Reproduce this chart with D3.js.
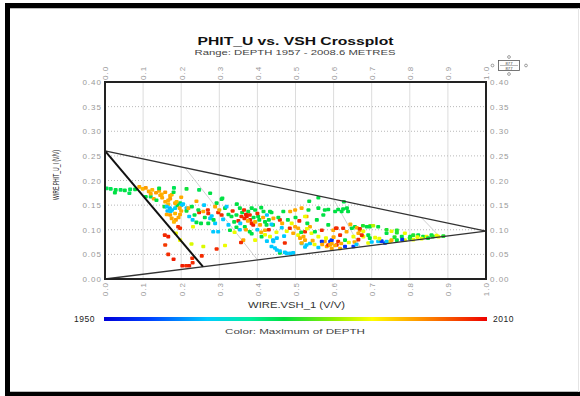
<!DOCTYPE html>
<html>
<head>
<meta charset="utf-8">
<script src="https://cdn.jsdelivr.net/npm/d3@7"></script>
<style>
  html, body { margin: 0; padding: 0; background: #fff; }
  svg { display: block; }
  text { font-family: "Liberation Sans", Arial, sans-serif; }
</style>
</head>
<body>
<svg id="chart" width="580" height="396"></svg>
<script>
// ---------------- DATA ----------------
const chartTitle = "PHIT_U vs. VSH Crossplot";
const chartSubtitle = "Range: DEPTH 1957 - 2008.6 METRES";
const xAxisTitle = "WIRE.VSH_1 (V/V)";
const yAxisTitle = "WIRE.PHIT_U_I (V/V)";
const colorTitle = "Color: Maximum of DEPTH";
const xTicks = [0, 0.1, 0.2, 0.3, 0.4, 0.5, 0.6, 0.7, 0.8, 0.9, 1.0];
const yTicks = [0, 0.05, 0.10, 0.15, 0.20, 0.25, 0.30, 0.35, 0.40];
const depthRange = [1950, 2010];

// Triangle (clean / matrix / shale points) as [VSH, PHIT]
const cleanPoint = [0, 0.26];
const matrixPoint = [0, 0];
const shalePoint = [1.0, 0.097];
const cutoffLine = [[0, 0.26], [0.257, 0.025]];
const isoLines = [
  [[0.21, 0.226], [0.40, 0.039]],
  [[0.60, 0.162], [0.67, 0.065]],
  [[0.83, 0.125], [0.88, 0.085]]
];

// Points: VSH, PHIT, DEPTH (parallel arrays)
const vsh = [
 0.004,0.015,0.028,0.041,0.052,0.066,0.079,0.026,0.064,
 0.090,0.099,0.107,0.115,0.124,0.134,0.142,0.149,0.158,0.171,
 0.142,0.181,0.214,0.107,0.120,0.128,0.175,0.171,0.166,
 0.158,0.166,0.156,0.162,0.170,0.176,0.184,0.164,0.172,0.190,0.197,0.184,0.188,0.201,0.214,0.214,
 0.162,0.171,0.184,0.175,0.186,0.193,0.181,0.197,0.196,
 0.197,0.166,0.158,0.157,0.166,0.180,0.203,0.213,0.221,0.230,0.192,
 0.186,0.227,0.231,0.197,0.258,
 0.247,0.240,0.219,0.228,0.221,0.235,0.247,0.258,0.271,0.262,0.276,0.252,0.271,0.289,
 0.306,0.293,0.289,0.297,0.306,0.315,0.319,0.324,0.332,0.324,0.339,0.346,0.354,
 0.358,0.366,0.372,0.381,0.385,0.389,0.394,0.376,0.394,0.402,0.416,0.420,0.407,0.367,0.354,0.380,
 0.394,0.363,0.357,0.411,0.437,0.424,0.315,0.293,0.254,0.229,0.441,0.420,0.433,
 0.276,0.308,0.385,0.433,0.284,0.297,0.328,0.441,0.451,0.477,0.494,0.459,
 0.560,0.577,0.604,0.486,0.529,0.499,0.507,0.512,0.525,0.516,0.529,0.591,0.582,0.595,0.608,
 0.437,0.468,0.442,0.459,0.499,0.516,0.525,0.534,0.536,0.560,0.586,0.612,0.621,0.635,
 0.531,0.538,0.485,0.437,0.464,0.477,0.494,0.507,0.521,0.525,0.542,0.551,
 0.525,0.538,0.446,0.459,0.472,0.486,0.442,0.451,
 0.577,0.586,0.595,0.604,0.612,0.630,0.634,0.648,0.617,0.569,0.595,0.652,0.560,0.586,0.608,0.599,0.569,0.556,0.652,0.665,0.573,0.516,0.472,
 0.625,0.638,0.627,0.656,0.644,0.669,0.625,0.606,0.617,0.591,0.677,0.696,0.739,0.766,
 0.661,0.669,0.678,0.687,0.695,0.704,0.717,0.678,0.691,0.709,0.717,0.726,0.739,0.752,0.766,0.779,0.787,0.801,0.809,0.822,0.835,0.844,0.857,0.870,
 0.766,0.748,0.735,0.739,0.752,0.787,0.809,0.831,0.848,0.875,0.888,0.691,0.665,0.674,0.695,
 0.300,0.310,0.335,0.345,0.350,0.360,0.365,0.370,0.375,0.380,0.390,0.400,0.405,0.410,0.415,0.425,0.430,
 0.345,0.355,0.340,0.370,0.385,0.400,0.410,0.420,0.425,0.430,0.450,0.455,0.465,0.470,0.480,0.490,0.500,0.510,0.515,0.530,
 0.545,0.550,0.560,0.570,0.580,0.600,0.620,0.630,0.640,0.655,0.660,0.700,0.720,0.760,0.780,0.800,0.820,0.860,
 0.120,0.145,0.135,0.150,0.180,0.200,0.205,0.200,0.230,0.240,0.245,0.260,0.270,0.280,0.285
];
const phit = [
 0.184,0.183,0.181,0.181,0.180,0.182,0.182,0.175,0.174,
 0.187,0.183,0.185,0.178,0.181,0.175,0.179,0.172,0.176,0.169,
 0.184,0.185,0.183,0.167,0.167,0.163,0.171,0.163,0.160,
 0.157,0.152,0.147,0.147,0.144,0.140,0.144,0.138,0.137,0.150,0.154,0.154,0.157,0.150,0.144,0.138,
 0.131,0.130,0.133,0.123,0.120,0.125,0.116,0.131,0.144,
 0.103,0.086,0.069,0.089,0.050,0.040,0.027,0.027,0.027,0.033,0.106,
 0.093,0.071,0.106,0.079,0.066,
 0.181,0.158,0.144,0.147,0.127,0.130,0.135,0.137,0.133,0.125,0.123,0.113,0.113,0.113,
 0.162,0.154,0.147,0.135,0.130,0.144,0.147,0.131,0.127,0.110,0.116,0.152,0.144,
 0.127,0.123,0.127,0.120,0.113,0.110,0.116,0.137,0.140,0.127,0.137,0.116,0.110,0.106,0.100,0.096,
 0.079,0.079,0.074,0.086,0.066,0.110,0.068,0.061,0.047,0.042,0.110,0.099,0.086,
 0.174,0.164,0.144,0.137,0.096,0.096,0.099,0.079,0.059,0.052,0.053,0.053,
 0.165,0.140,0.137,0.137,0.127,0.106,0.089,0.083,0.079,0.072,0.069,0.076,0.066,0.062,0.069,
 0.135,0.137,0.123,0.120,0.140,0.144,0.127,0.140,0.158,0.144,0.141,0.141,0.137,0.144,
 0.113,0.106,0.103,0.111,0.104,0.097,0.093,0.103,0.086,0.096,0.093,0.096,
 0.065,0.072,0.063,0.057,0.054,0.052,0.076,0.083,
 0.076,0.069,0.072,0.068,0.076,0.079,0.096,0.103,0.062,0.076,0.079,0.066,0.086,0.110,0.103,0.099,0.099,0.120,0.086,0.080,0.130,0.073,0.073,
 0.142,0.137,0.157,0.106,0.111,0.099,0.103,0.103,0.089,0.069,0.108,0.108,0.100,0.094,
 0.104,0.102,0.097,0.106,0.106,0.108,0.106,0.086,0.089,0.084,0.076,0.077,0.093,0.097,0.099,0.086,0.093,0.086,0.080,0.089,0.086,0.086,0.089,0.088,
 0.079,0.076,0.073,0.076,0.079,0.079,0.089,0.082,0.083,0.086,0.087,0.073,0.093,0.089,0.083,
 0.140,0.121,0.138,0.130,0.118,0.135,0.140,0.131,0.118,0.130,0.125,0.133,0.120,0.145,0.125,0.130,0.120,
 0.105,0.113,0.095,0.100,0.092,0.100,0.095,0.090,0.077,0.100,0.095,0.125,0.113,0.087,0.120,0.113,0.125,0.118,0.095,0.102,
 0.078,0.070,0.064,0.070,0.083,0.085,0.072,0.066,0.074,0.075,0.070,0.075,0.082,0.085,0.080,0.083,0.085,0.086,
 0.173,0.170,0.160,0.165,0.176,0.166,0.152,0.138,0.120,0.115,0.140,0.150,0.140,0.128,0.120
];
const depth = [
 1977,1977,1978,1977,1978,1977,1978,1978,1977,
 1998,1997,1999,1998,1997,1999,1998,1997,1999,1998,
 1978,1977,1979,1978,1977,1998,1997,1999,1998,
 1998,1997,1979,1966,1965,1966,1967,1965,1966,1978,1977,1998,1997,1966,1966,1979,
 1998,1999,1997,1998,1999,1998,1997,1998,1998,
 2007,2008,2006,2007,2007,2008,2008,2007,2008,2007,2007,
 1991,1990,1991,1991,1990,
 1977,1998,1998,1978,1966,1978,2007,1998,2007,1978,1966,1978,1978,1966,
 1978,1978,1998,2007,2007,1978,1966,1978,1978,1966,1978,1978,1978,
 2007,2007,2008,2007,2007,2008,1998,1978,1978,1978,1978,1978,1998,1978,1966,1978,
 1991,1998,2007,1978,1966,1978,1991,2007,2007,2007,1978,1998,1991,
 1978,1978,1978,1978,1966,1966,1978,1965,1966,1966,1966,1978,
 1978,1978,1978,1998,1998,1998,1991,1998,1998,1966,1966,1956,1998,1998,2007,
 1978,1978,1998,2007,1998,1998,1991,1978,1978,1978,1978,1978,1978,1978,
 1978,1998,2007,1966,1966,1991,1998,1998,1998,2007,1991,1978,
 1966,1966,1966,1966,1966,1966,1966,1966,
 1998,2007,1998,1998,2007,1978,1998,1978,1998,1956,1956,1956,1991,1978,2007,1998,2007,1978,1991,2007,1978,1998,2007,
 1978,1978,1978,1978,1998,1998,2007,2007,2007,1998,1980,1985,1980,1980,
 1998,2007,1991,1978,1978,1988,1978,1991,1978,1991,1966,1956,1978,1991,1980,1978,1991,1978,1991,1978,1978,1991,1978,1991,
 1978,1991,1956,1966,1998,1991,1980,1991,1978,1991,1980,1991,1998,2007,1978,
 1998,1966,2007,1978,2007,1978,2007,2008,1998,2007,1978,2007,1978,1978,1998,1966,1978,
 1978,1966,1991,1998,1978,1966,1998,1991,1966,2007,1991,1978,1998,1966,1978,1991,1978,2007,1978,1991,
 1998,1991,1966,1998,1991,1998,1998,1956,1991,1998,1966,1966,1991,1980,1956,1980,1991,1980,
 1998,1998,1978,1998,1978,1998,1966,1998,1966,1978,1978,1966,2007,1966,1978
];

// Colour ramp stops (fraction of depth range) and colours
const rampStops = [0, 0.12, 0.27, 0.38, 0.47, 0.6, 0.7, 0.82, 1.0];
const rampColors = ["#0000d8", "#0040ff", "#00ccff", "#00f0a0", "#00e040", "#90f000", "#ffff00", "#ff9900", "#ee0000"];

// ---------------- DRAW ----------------
const svg = d3.select("#chart");
const W = 580, H = 396;
const L = 105, R = 486, T = 82, B = 279;

const x = d3.scaleLinear().domain([0, 1]).range([L, R]);
const y = d3.scaleLinear().domain([0, 0.4]).range([B, T]);
const color = d3.scaleLinear()
  .domain(rampStops.map(s => depthRange[0] + s * (depthRange[1] - depthRange[0])))
  .range(rampColors)
  .clamp(true);

// outer frame
svg.append("rect").attr("x", 0).attr("y", 0).attr("width", W).attr("height", H).attr("fill", "#fff");
svg.append("rect").attr("x", 5).attr("y", 3).attr("width", 575).attr("height", 5).attr("fill", "#000");
svg.append("rect").attr("x", 5).attr("y", 3).attr("width", 5).attr("height", 393).attr("fill", "#000");
svg.append("rect").attr("x", 5).attr("y", 392).attr("width", 575).attr("height", 4).attr("fill", "#000");
svg.append("line").attr("x1", 10).attr("x2", 580).attr("y1", 8.5).attr("y2", 8.5).attr("stroke", "#bbb");
svg.append("line").attr("x1", 10).attr("x2", 580).attr("y1", 391.5).attr("y2", 391.5).attr("stroke", "#bbb");
svg.append("line").attr("x1", 578.5).attr("x2", 578.5).attr("y1", 8).attr("y2", 392).attr("stroke", "#e4e4e4");

// titles
svg.append("text").attr("x", 295.5).attr("y", 45).attr("text-anchor", "middle")
  .attr("font-size", 11.5).attr("font-weight", "bold").attr("fill", "#111")
  .attr("textLength", 196).attr("lengthAdjust", "spacingAndGlyphs").text(chartTitle);
svg.append("text").attr("x", 295).attr("y", 54.5).attr("text-anchor", "middle")
  .attr("font-size", 8).attr("fill", "#444")
  .attr("textLength", 201).attr("lengthAdjust", "spacingAndGlyphs").text(chartSubtitle);

// grid
const gGrid = svg.append("g");
gGrid.selectAll("line.v").data(xTicks.slice(1, -1)).join("line")
  .attr("x1", d => x(d)).attr("x2", d => x(d)).attr("y1", T).attr("y2", B)
  .attr("stroke", "#dcdcdc").attr("stroke-width", 1);
gGrid.selectAll("line.h").data(yTicks.slice(1, -1)).join("line")
  .attr("x1", L).attr("x2", R).attr("y1", d => y(d)).attr("y2", d => y(d))
  .attr("stroke", "#b8b8b8").attr("stroke-width", 1).attr("stroke-dasharray", "1,2");

// iso lines (faint)
const lineGen = d3.line().x(d => x(d[0])).y(d => y(d[1]));
svg.append("g").selectAll("path").data(isoLines).join("path")
  .attr("d", lineGen).attr("fill", "none").attr("stroke", "#cfcfcf").attr("stroke-width", 1);

// points
svg.append("g").selectAll("rect").data(vsh.map((v, i) => [v, phit[i], depth[i]])).join("rect")
  .attr("x", d => x(d[0]) - 2).attr("y", d => y(d[1]) - 1.8)
  .attr("width", 4).attr("height", 3.6).attr("rx", 1)
  .attr("fill", d => color(d[2]));

// triangle
svg.append("path").attr("d", lineGen([cleanPoint, shalePoint]))
  .attr("fill", "none").attr("stroke", "#333").attr("stroke-width", 1.3);
svg.append("path").attr("d", lineGen([matrixPoint, shalePoint]))
  .attr("fill", "none").attr("stroke", "#333").attr("stroke-width", 1.3);
svg.append("path").attr("d", lineGen(cutoffLine))
  .attr("fill", "none").attr("stroke", "#111").attr("stroke-width", 2);

// plot frame
svg.append("rect").attr("x", L).attr("y", T).attr("width", R - L).attr("height", B - T)
  .attr("fill", "none").attr("stroke", "#222").attr("stroke-width", 2);

// axes
const fmt2 = d3.format(".2f"), fmt1 = d3.format(".1f");
function styleAxis(g) {
  g.select(".domain").remove();
  g.selectAll(".tick line").remove();
  g.selectAll("text").attr("fill", "#999").attr("font-size", 8)
    .attr("letter-spacing", 1).attr("font-family", "Liberation Sans, Arial, sans-serif");
}
svg.append("g").attr("transform", `translate(${L},0)`)
  .call(d3.axisLeft(y).tickValues(yTicks).tickFormat(fmt2).tickSize(0).tickPadding(3))
  .call(styleAxis);
svg.append("g").attr("transform", `translate(${R},0)`)
  .call(d3.axisRight(y).tickValues(yTicks).tickFormat(fmt2).tickSize(0).tickPadding(4))
  .call(styleAxis);
svg.append("g").attr("transform", `translate(0,${T})`)
  .call(d3.axisTop(x).tickValues(xTicks).tickFormat(fmt1).tickSize(0))
  .call(styleAxis)
  .selectAll("text").attr("transform", "rotate(-90)").attr("x", 2).attr("y", 0)
  .attr("dy", "0.35em").attr("text-anchor", "start");
svg.append("g").attr("transform", `translate(0,${B})`)
  .call(d3.axisBottom(x).tickValues(xTicks).tickFormat(fmt1).tickSize(0))
  .call(styleAxis)
  .selectAll("text").attr("transform", "rotate(-90)").attr("x", -3).attr("y", 0)
  .attr("dy", "0.35em").attr("text-anchor", "end");

// axis titles
svg.append("text").attr("transform", "translate(59,175) rotate(-90)")
  .attr("text-anchor", "middle").attr("font-size", 9).attr("fill", "#222")
  .attr("textLength", 50).attr("lengthAdjust", "spacingAndGlyphs").text(yAxisTitle);
svg.append("text").attr("x", 296.5).attr("y", 308).attr("text-anchor", "middle")
  .attr("font-size", 8.5).attr("fill", "#333")
  .attr("textLength", 97).attr("lengthAdjust", "spacingAndGlyphs").text(xAxisTitle);

// colour bar
const defs = svg.append("defs");
const grad = defs.append("linearGradient").attr("id", "depthGrad");
grad.selectAll("stop").data(rampStops).join("stop")
  .attr("offset", d => (d * 100) + "%").attr("stop-color", (d, i) => rampColors[i]);
const cb = d3.scaleLinear().domain(depthRange).range([104, 487]);
svg.append("rect").attr("x", cb(depthRange[0])).attr("y", 317)
  .attr("width", cb(depthRange[1]) - cb(depthRange[0])).attr("height", 4)
  .attr("fill", "url(#depthGrad)");
svg.append("text").attr("x", 95).attr("y", 322).attr("text-anchor", "end")
  .attr("font-size", 8.5).attr("fill", "#222").attr("letter-spacing", 0.5).text(depthRange[0]);
svg.append("text").attr("x", 493).attr("y", 322).attr("text-anchor", "start")
  .attr("font-size", 8.5).attr("fill", "#222").attr("letter-spacing", 0.5).text(depthRange[1]);
svg.append("text").attr("x", 295).attr("y", 334).attr("text-anchor", "middle")
  .attr("font-size", 8).attr("fill", "#444")
  .attr("textLength", 140).attr("lengthAdjust", "spacingAndGlyphs").text(colorTitle);

// small navigation widget (top right)
const wg = svg.append("g");
wg.append("rect").attr("x", 498.5).attr("y", 60.5).attr("width", 21).attr("height", 10)
  .attr("fill", "#fff").attr("stroke", "#555").attr("stroke-width", 0.8);
wg.append("line").attr("x1", 500).attr("x2", 518).attr("y1", 65.5).attr("y2", 65.5)
  .attr("stroke", "#777").attr("stroke-width", 0.5);
wg.append("text").attr("x", 509).attr("y", 64.6).attr("text-anchor", "middle")
  .attr("font-size", 4.2).attr("fill", "#444").text("877");
wg.append("text").attr("x", 509).attr("y", 69.8).attr("text-anchor", "middle")
  .attr("font-size", 4.2).attr("fill", "#444").text("877");
[[492.5, 65.5], [526, 65.5], [509, 57], [509, 74]].forEach(c => {
  wg.append("circle").attr("cx", c[0]).attr("cy", c[1]).attr("r", 1.4)
    .attr("fill", "none").attr("stroke", "#777").attr("stroke-width", 0.7);
});
</script>
</body>
</html>
